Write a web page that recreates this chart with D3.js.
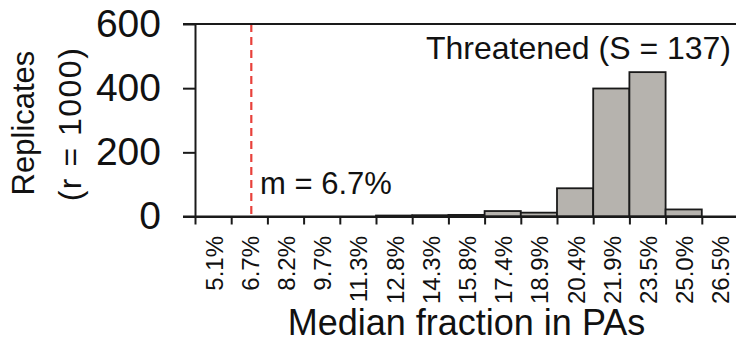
<!DOCTYPE html>
<html>
<head>
<meta charset="utf-8">
<script src="https://cdn.jsdelivr.net/npm/d3@7"></script>
<style>
  body { margin: 0; background: #fff; }
  text { font-family: "Liberation Sans", Arial, sans-serif; fill: #111; }
</style>
</head>
<body>
<div id="chart"></div>
<script>
// histogram of replicate medians, threatened species

var binLabels = ["5.1%", "6.7%", "8.2%", "9.7%", "11.3%", "12.8%", "14.3%", "15.8%",
                 "17.4%", "18.9%", "20.4%", "21.9%", "23.5%", "25.0%", "26.5%"];
var counts = [0, 0, 0, 0, 0, 3, 4, 5, 17, 12, 88, 399, 450, 22, 0];
var yTicks = [0, 200, 400, 600];
var medianBin = "6.7%";
var medianText = "m = 6.7%";
var panelTitle = "Threatened (S = 137)";
var xTitle = "Median fraction in PAs";
var yTitle = ["Replicates", "(r = 1000)"];

var W = 736, H = 344;
var plotLeft = 195, plotRight = 738, plotTop = 24, plotBottom = 216.5;
var ink = "#1a1a1a";
var font = "'Liberation Sans', Arial, sans-serif";

var svg = d3.select("#chart").append("svg")
    .attr("width", W)
    .attr("height", H);

var x = d3.scaleBand().domain(binLabels).range([plotLeft, plotRight]).padding(0);
var xi = d3.scaleLinear().domain([0, binLabels.length]).range([plotLeft, plotRight]);
var y = d3.scaleLinear().domain([0, 600]).range([plotBottom, plotTop]);

var data = binLabels.map(function(d, i) { return {bin: d, n: counts[i]}; });

// bars (empty bins are not drawn)
svg.selectAll(".bar")
    .data(data.filter(function(d) { return d.n > 0; }))
  .enter().append("rect")
    .attr("class", "bar")
    .attr("x", function(d) { return x(d.bin); })
    .attr("y", function(d) { return y(d.n); })
    .attr("width", x.bandwidth())
    .attr("height", function(d) { return y(0) - y(d.n); })
    .style("fill", "#b6b3ae")
    .style("stroke", ink)
    .style("stroke-width", 1.8);

// median line
var mx = x(medianBin) + x.bandwidth() / 2 + 2;
svg.append("line")
    .attr("x1", mx).attr("x2", mx)
    .attr("y1", y(600)).attr("y2", y(0))
    .style("stroke", "#e8413b")
    .style("stroke-width", 2.2)
    .style("stroke-dasharray", "8,5");

// top rule
svg.append("line")
    .attr("x1", plotLeft - 12).attr("x2", plotRight)
    .attr("y1", y(600)).attr("y2", y(600))
    .style("stroke", ink).style("stroke-width", 2);

// y axis
var yAxis = svg.append("g")
    .attr("transform", "translate(" + plotLeft + ",0)")
    .call(d3.axisLeft(y).tickValues(yTicks).tickSize(12).tickSizeOuter(0).tickPadding(22));
yAxis.attr("font-family", font);
yAxis.selectAll("path, line").style("stroke", ink).style("stroke-width", 2);
yAxis.selectAll("text")
    .style("font-size", "39px")
    .attr("fill", "#111");

// x axis, ticks on bin edges
var xAxis = svg.append("g")
    .attr("transform", "translate(0," + y(0) + ")")
    .call(d3.axisBottom(xi).tickValues(d3.range(0, binLabels.length + 1))
      .tickSize(8).tickSizeOuter(0).tickFormat(""));
xAxis.selectAll("path, line").style("stroke", ink).style("stroke-width", 2);

svg.append("line")
    .attr("x1", plotLeft - 12).attr("x2", plotRight)
    .attr("y1", y(0)).attr("y2", y(0))
    .style("stroke", ink).style("stroke-width", 2);

// bin labels, rotated
svg.selectAll(".binLabel")
    .data(binLabels)
  .enter().append("text")
    .attr("class", "binLabel")
    .attr("transform", function(d) {
      return "translate(" + (x(d) + x.bandwidth() / 2) + ",236) rotate(-90)";
    })
    .attr("y", 9.5)
    .attr("text-anchor", "end")
    .style("font-family", font)
    .style("font-size", "24px")
    .text(function(d) { return d; });

// titles
svg.append("text")
    .attr("x", (plotLeft + plotRight) / 2)
    .attr("y", 335)
    .attr("text-anchor", "middle")
    .style("font-size", "36px")
    .text(xTitle);

svg.append("text")
    .attr("transform", "translate(34,123) rotate(-90)")
    .attr("text-anchor", "middle")
    .style("font-size", "31px")
    .text(yTitle[0]);

svg.append("text")
    .attr("transform", "translate(81,124) rotate(-90)")
    .attr("text-anchor", "middle")
    .style("font-size", "32px")
    .style("letter-spacing", "1.5px")
    .text(yTitle[1]);

svg.append("text")
    .attr("x", 731)
    .attr("y", 59)
    .attr("text-anchor", "end")
    .style("font-size", "32px")
    .text(panelTitle);

svg.append("text")
    .attr("x", 260)
    .attr("y", 194)
    .style("font-size", "31px")
    .text(medianText);
</script>
</body>
</html>
